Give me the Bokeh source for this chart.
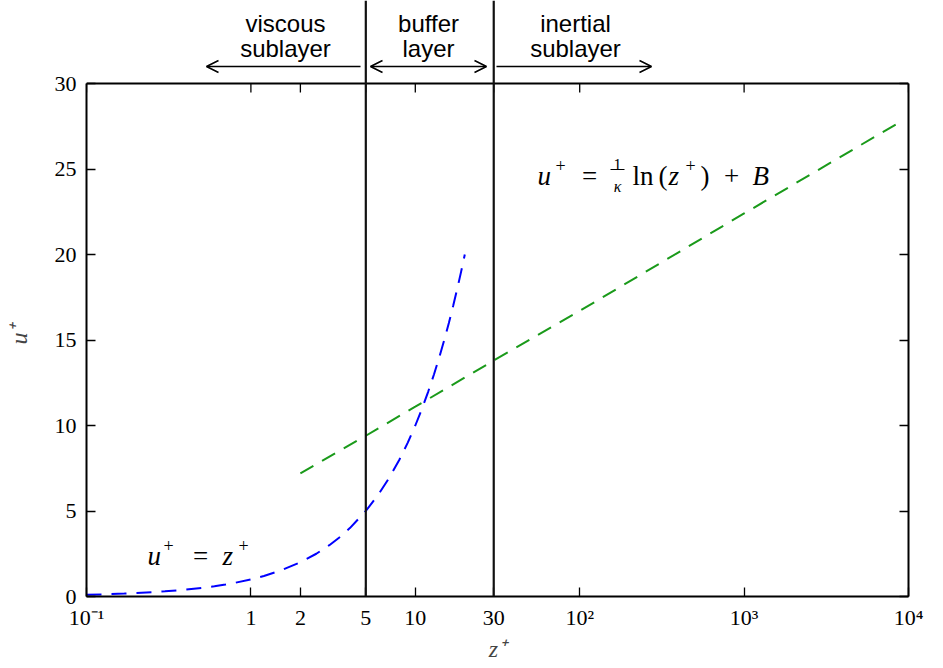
from bokeh.plotting import figure
from bokeh.models import (Range1d, LinearAxis, LogAxis, FixedTicker, Label, Arrow,
                          OpenHead, Span, CustomJSTickFormatter)
from bokeh.embed import file_html
from bokeh.resources import INLINE

# ---- data ----
z_visc = [0.1, 0.13, 0.17, 0.2, 0.25, 0.3, 0.4, 0.5, 0.6, 0.7, 0.8, 1.0, 1.2, 1.5,
          2.0, 2.5, 3.0, 3.5, 4.0, 5.0, 6.0, 7.0, 8.0, 9.0, 10.0, 11.0, 12.0, 13.0,
          14.0, 15.0, 16.0, 17.0, 18.0, 19.0, 20.0]
u_visc = [0.1, 0.13, 0.17, 0.2, 0.25, 0.3, 0.4, 0.5, 0.6, 0.7, 0.8, 1.0, 1.2, 1.5,
          2.0, 2.5, 3.0, 3.5, 4.0, 5.0, 6.0, 7.0, 8.0, 9.0, 10.0, 11.0, 12.0, 13.0,
          14.0, 15.0, 16.0, 17.0, 18.0, 19.0, 20.0]
z_log = [2, 5, 10, 30, 100, 1000, 8700]
u_log = [7.2, 9.4, 11.1, 13.8, 16.7, 22.4, 27.7]
layer_bounds = [5, 30]
x_ticks = [0.1, 1, 2, 5, 10, 30, 100, 1000, 10000]
x_tick_labels = ["10⁻¹", "1", "2", "5", "10", "30", "10²", "10³", "10⁴"]
y_ticks = [0, 5, 10, 15, 20, 25, 30]
Y_MAX = 30

# ---- layout (pixels) ----
L, W = 86, 822          # frame left / width
BOT = 596               # pixel row of u+ = 0
PLOT_TOP = 83           # pixel row of u+ = 30
Y_TOP = Y_MAX * BOT / (BOT - PLOT_TOP)   # data value at the image top
TICK = 9


def dx(px):
    return 10 ** (-1 + 5 * (px - L) / W)


def dy(py):
    return Y_MAX * (BOT - py) / (BOT - PLOT_TOP)


SERIF = "Liberation Serif"
SANS = "Liberation Sans"
NB = "\u00a0"

p = figure(x_axis_type="log", x_range=Range1d(0.1, 1e4), y_range=Range1d(0, Y_TOP),
           frame_width=W, frame_height=BOT, min_border_left=L,
           min_border_right=943 - L - W, min_border_top=0,
           min_border_bottom=668 - BOT,
           output_backend="svg", toolbar_location=None)
p.xgrid.visible = False
p.ygrid.visible = False
p.outline_line_color = None
p.background_fill_color = "white"
p.border_fill_color = "white"


def style(ax, labels=True):
    ax.major_tick_in = TICK
    ax.major_tick_out = 0
    ax.minor_tick_line_color = None
    ax.axis_line_color = "black"
    ax.axis_line_width = 2
    ax.major_tick_line_color = "black"
    ax.major_tick_line_width = 1.3
    ax.major_label_text_font = SERIF
    ax.major_label_text_font_size = "22px"
    ax.major_label_text_color = "black"
    if not labels:
        ax.formatter = CustomJSTickFormatter(code="return ''")
        ax.major_label_text_font_size = "0px"
        ax.major_label_standoff = 0


xb = p.xaxis[0]
xb.ticker = FixedTicker(ticks=x_ticks)
xb.major_label_overrides = {t: s for t, s in zip(x_ticks, x_tick_labels)}
style(xb)
xb.major_label_text_align = "left"
xb.major_label_standoff = 8
xb.axis_label = "z⁺"
xb.axis_label_text_font = SERIF
xb.axis_label_text_font_style = "italic"
xb.axis_label_text_font_size = "24px"
xb.axis_label_standoff = 3

yl = p.yaxis[0]
yl.ticker = FixedTicker(ticks=y_ticks)
yl.bounds = (0, Y_MAX)
style(yl)
yl.major_label_standoff = 10
# non-breaking padding keeps the rotated label centred on the 0-30 part of the axis
yl.axis_label = "u⁺" + NB * 12
yl.axis_label_text_font = SERIF
yl.axis_label_text_font_style = "italic"
yl.axis_label_text_font_size = "24px"
yl.axis_label_standoff = 20

yr = LinearAxis(ticker=FixedTicker(ticks=y_ticks), bounds=(0, Y_MAX))
style(yr, labels=False)
p.add_layout(yr, "right")

xt = LogAxis(ticker=FixedTicker(ticks=x_ticks), fixed_location=Y_MAX)
style(xt, labels=False)
xt.major_tick_line_color = None
p.add_layout(xt, "above")

# top ticks (pointing down from the upper frame edge)
p.segment(x0=x_ticks, y0=[Y_MAX] * len(x_ticks), x1=x_ticks,
          y1=[dy(PLOT_TOP + TICK)] * len(x_ticks), line_color="black", line_width=1.3)

# ---- lines ----
p.line(z_visc, u_visc, line_color="#0000ff", line_width=2, line_dash="15 10")
p.line(z_log, u_log, line_color="#1a9a1a", line_width=2, line_dash="15 10")

# vertical layer boundaries
for xv in layer_bounds:
    p.add_layout(Span(location=xv, dimension="height", line_color="#111111", line_width=2.2))

# header arrows
ya = dy(66)
head = dict(size=12, line_width=1.6, line_color="black")
p.add_layout(Arrow(x_start=dx(360), y_start=ya, x_end=dx(206), y_end=ya,
                   end=OpenHead(**head), line_width=1.6, line_color="black"))
p.add_layout(Arrow(x_start=dx(370), y_start=ya, x_end=dx(486), y_end=ya,
                   start=OpenHead(**head), end=OpenHead(**head),
                   line_width=1.6, line_color="black"))
p.add_layout(Arrow(x_start=dx(496), y_start=ya, x_end=dx(651), y_end=ya,
                   end=OpenHead(**head), line_width=1.6, line_color="black"))

for cx, l1, l2 in [(285, "viscous", "sublayer"), (428, "buffer", "layer"),
                   (575, "inertial", "sublayer")]:
    for text, by in [(l1, 23), (l2, 48)]:
        p.add_layout(Label(x=dx(cx), y=dy(by), text=text, text_font=SANS,
                           text_font_size="24px", text_align="center",
                           text_baseline="alphabetic", text_color="black"))


def lab(px, py, text, size="27px", italic=False, align="left"):
    p.add_layout(Label(x=dx(px), y=dy(py), text=text, text_font=SERIF,
                       text_font_size=size, text_align=align,
                       text_baseline="alphabetic", text_color="black",
                       text_font_style="italic" if italic else "normal"))


# u+ = (1/kappa) ln(z+) + B
lab(537, 175, "u", italic=True)
lab(555, 165, "+", size="18px")
lab(589, 175, "=", align="center")
lab(617, 164, "1", size="16px", align="center")
p.add_layout(Arrow(start=None, end=None, x_start=dx(610), y_start=dy(169),
                   x_end=dx(624), y_end=dy(169), line_color="black", line_width=1))
lab(617, 186, "κ", size="16px", italic=True, align="center")
lab(632, 175, "ln")
lab(658, 175, "(")
lab(668, 175, "z", italic=True)
lab(685, 165, "+", size="18px")
lab(700, 175, ")")
lab(731, 175, "+", align="center")
lab(752, 175, "B", italic=True)

# u+ = z+
lab(147, 555, "u", italic=True)
lab(163, 545, "+", size="18px")
lab(200, 555, "=", align="center")
lab(222, 555, "z", italic=True)
lab(238, 545, "+", size="18px")

open("out.html", "w").write(file_html(p, INLINE))
